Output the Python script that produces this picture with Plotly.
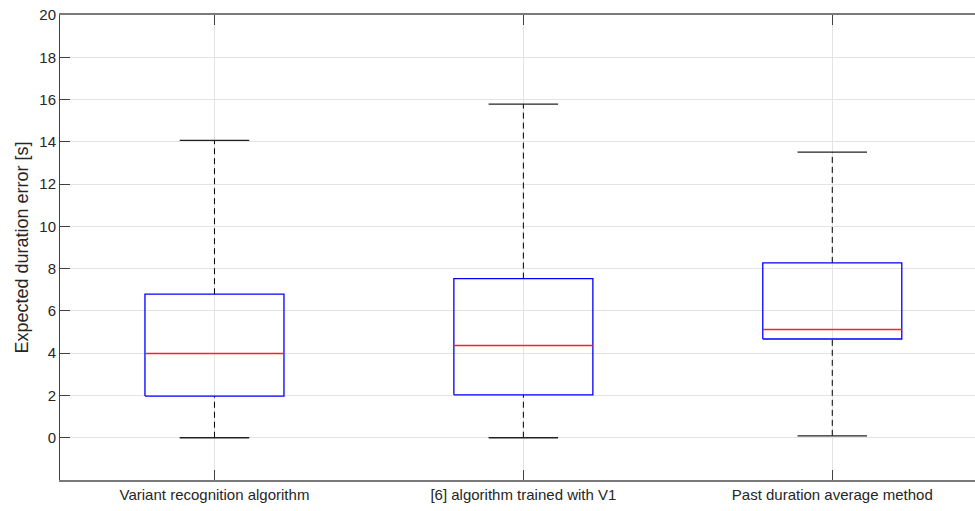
import plotly.graph_objects as go

categories = ["Variant recognition algorithm", "[6] algorithm trained with V1", "Past duration average method"]
lower_whisker = [0.0, 0.0, 0.09]
q1 = [1.97, 2.03, 4.67]
median = [3.99, 4.36, 5.12]
q3 = [6.79, 7.53, 8.27]
upper_whisker = [14.07, 15.78, 13.51]
y_ticks = list(range(0, 21, 2))

box_w = 0.45
cap_w = box_w / 2
pos = [i + 1 for i in range(len(categories))]

fig = go.Figure()

# whiskers (dashed)
wx, wy = [], []
for p, lo, a, b, hi in zip(pos, lower_whisker, q1, q3, upper_whisker):
    wx += [p, p, None, p, p, None]
    wy += [b, hi, None, lo, a, None]
fig.add_trace(go.Scatter(x=wx, y=wy, mode="lines", line=dict(color="black", width=1, dash="6px,4px"),
                         hoverinfo="skip", showlegend=False))
# caps
cx, cy = [], []
for p, lo, hi in zip(pos, lower_whisker, upper_whisker):
    cx += [p - cap_w / 2, p + cap_w / 2, None, p - cap_w / 2, p + cap_w / 2, None]
    cy += [hi, hi, None, lo, lo, None]
fig.add_trace(go.Scatter(x=cx, y=cy, mode="lines", line=dict(color="#222222", width=1.3),
                         hoverinfo="skip", showlegend=False))
# boxes
bx, by = [], []
for p, a, b in zip(pos, q1, q3):
    l, r = p - box_w / 2, p + box_w / 2
    bx += [l, r, r, l, l, None]
    by += [a, a, b, b, a, None]
fig.add_trace(go.Scatter(x=bx, y=by, mode="lines", line=dict(color="#0000ff", width=1.3),
                         hoverinfo="skip", showlegend=False))
# medians
mx, my = [], []
for p, m in zip(pos, median):
    mx += [p - box_w / 2, p + box_w / 2, None]
    my += [m, m, None]
fig.add_trace(go.Scatter(x=mx, y=my, mode="lines", line=dict(color="#ff2020", width=1.5),
                         hoverinfo="skip", showlegend=False))

axis_font = dict(family="Liberation Sans, Arial, sans-serif", size=15, color="#262626")

fig.update_layout(
    width=975, height=511,
    margin=dict(l=60, r=0, t=15, b=31),
    plot_bgcolor="white", paper_bgcolor="white",
    font=axis_font,
    xaxis=dict(
        range=[0.5, 3.462], tickvals=pos, ticktext=categories,
        showgrid=True, gridcolor="#e3e3e3", gridwidth=1,
        showline=True, linecolor="#7a7a7a", linewidth=1.5, mirror="ticks",
        ticks="inside", ticklen=10, tickcolor="#404040", tickwidth=1,
        zeroline=False, tickfont=axis_font,
    ),
    yaxis=dict(
        range=[-2, 20], tickvals=y_ticks,
        showgrid=True, gridcolor="#e3e3e3", gridwidth=1,
        showline=True, linecolor="#404040", linewidth=1,
        ticks="inside", ticklen=10, tickcolor="#404040", tickwidth=1,
        zeroline=False, tickfont=axis_font,
        title=dict(text="Expected duration error [s]", font=dict(family="Liberation Sans, Arial, sans-serif", size=18, color="#262626"), standoff=6),
    ),
)

fig.write_html("out.html")
